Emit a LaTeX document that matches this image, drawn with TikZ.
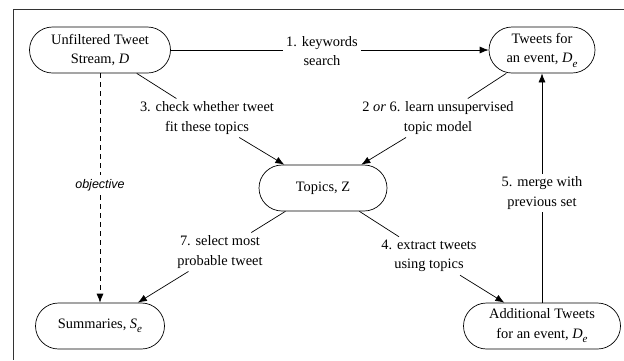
\documentclass[tikz,border=0pt]{standalone}
\usepackage{fontspec}
\setmainfont{Liberation Serif}
\newfontfamily\objfont{Liberation Sans}
\usetikzlibrary{positioning,calc,arrows.meta}
\newcommand{\subidx}[1]{\raisebox{-4.5pt}{\fontsize{11}{11}\selectfont\textit{#1}}}
\newcommand{\evset}{\textit{D}\subidx{e}}
\tikzstyle{stage}=[draw, rounded corners=23pt, minimum height=46pt, align=center, line width=0.7pt, font=\fontsize{14.4}{19.5}\selectfont]
\tikzstyle{steplabel}=[align=center, inner sep=3pt, font=\fontsize{14.4}{19.5}\selectfont]
\tikzset{flow/.style={line width=0.7pt}}
\tikzset{tip/.style={-{Latex[length=9pt,width=7pt]}}}
\tikzset{y=-1pt}
\tikzset{x=1pt}

\begin{document}
\begin{tikzpicture}
  \useasboundingbox (0,0) rectangle (624,360);
  \draw[line width=1pt, black!80] (624,9) -| (13,360);

  \draw (100,50) node[stage,minimum width=141pt] (U) {Unfiltered Tweet\\Stream, \textit{D}};
  \draw (542,50) node[stage,minimum width=106pt] (De) {Tweets for\\an event, \evset};
  \draw (323,188) node[stage,minimum width=128pt] (Z) {Topics, Z};
  \draw (100,326) node[stage,minimum width=129pt] (S) {Summaries, \textit{S}\subidx{e}};
  \draw (542,326) node[stage,minimum width=157pt] (A) {Additional Tweets\\for an event, \evset};

  %% step labels
  \draw (322,51) node[steplabel] (L1) {1. keywords\\search};
  \draw (438,118) node[steplabel] (L2) {2 \textit{or} 6. learn unsupervised\\topic model};
  \draw (207,118) node[steplabel] (L3) {3. check whether tweet\\fit these topics};
  \draw (429,256) node[steplabel] (L4) {4. extract tweets\\using topics};
  \draw (542,193) node[steplabel] (L5) {5. merge with\\previous set};
  \draw (220,252) node[steplabel] (L7) {7. select most\\probable tweet};
  \draw (100,185) node[font=\objfont\itshape\fontsize{12.5}{15}\selectfont, inner sep=4pt] (obj) {objective};

  %% connectors
  \draw[flow] (U.east) -- (U.east -| L1.west);
  \draw[flow,tip] (De.west -| L1.east) -- (De.west);
  \draw[flow] (De) -- (L2);
  \draw[flow,tip] (L2) -- (Z);
  \draw[flow] (U) -- (L3);
  \draw[flow,tip] (L3) -- (Z);
  \draw[flow] (Z) -- (L4);
  \draw[flow,tip] (L4) -- (A);
  \draw[flow] (A) -- (L5);
  \draw[flow,tip] (L5) -- (De);
  \draw[flow] (Z) -- (L7);
  \draw[flow,tip] (L7) -- (S);
  \draw[flow,dash pattern=on 5pt off 4pt] (U) -- (obj);
  \draw[flow,dash pattern=on 5pt off 4pt,tip] (obj) -- (S);
\end{tikzpicture}
\end{document}
